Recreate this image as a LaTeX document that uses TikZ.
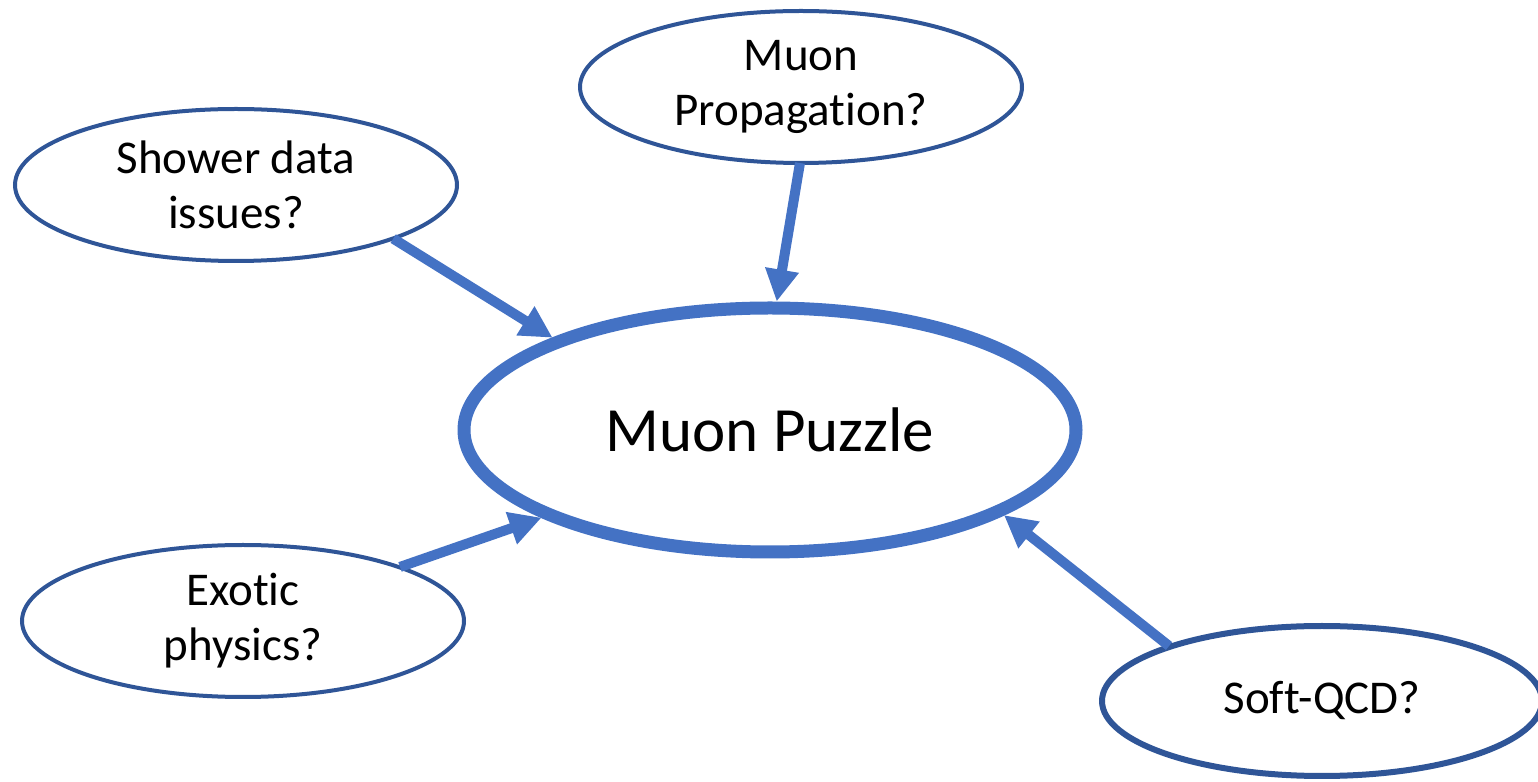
\documentclass[tikz,border=0pt]{standalone}
\usepackage{fontspec}
\setmainfont{Carlito}[Ligatures=NoCommon]
\usetikzlibrary{shapes.geometric,arrows.meta}
\definecolor{accent}{HTML}{4472C4}
\definecolor{darkrim}{HTML}{2F5597}
\tikzset{
  bubble/.style={ellipse, draw=darkrim, line width=2pt, fill=white, inner sep=0pt,
    align=center, font=\fontsize{23.5}{27.5}\selectfont,
    minimum width=221pt, minimum height=76pt},
  hub/.style={ellipse, draw=accent, line width=6.5pt, fill=white, inner sep=0pt,
    align=center, font=\fontsize{31.5}{36}\selectfont},
  arr/.style={draw=accent, line width=5pt, -{Triangle[length=16pt,width=16pt]}, shorten <=-1pt}
}
\begin{document}
\begin{tikzpicture}[x=0.5pt,y=0.5pt]
\useasboundingbox (0,0) rectangle (1538,782);
\node[hub, minimum width=306pt, minimum height=122pt] (main) at (770,352) {Muon Puzzle};
\node[bubble] (prop) at (801,695) {Muon\\Propagation?};
\node[bubble] (shower) at (236,597) {Shower data\\issues?};
\node[bubble] (exotic) at (243,161) {Exotic\\physics?};
\node[bubble, line width=3pt, minimum width=220pt, minimum height=75pt] (soft) at (1322,81) {Soft-QCD?};
\draw[arr] (shower.-19.5) -- (main.157.8);
\draw[arr] (prop.-91) -- (main.87.8);
\draw[arr] (exotic.19.6) -- (main.201.8);
\draw[arr] (soft.160) -- (main.-20.9);
\end{tikzpicture}
\end{document}
